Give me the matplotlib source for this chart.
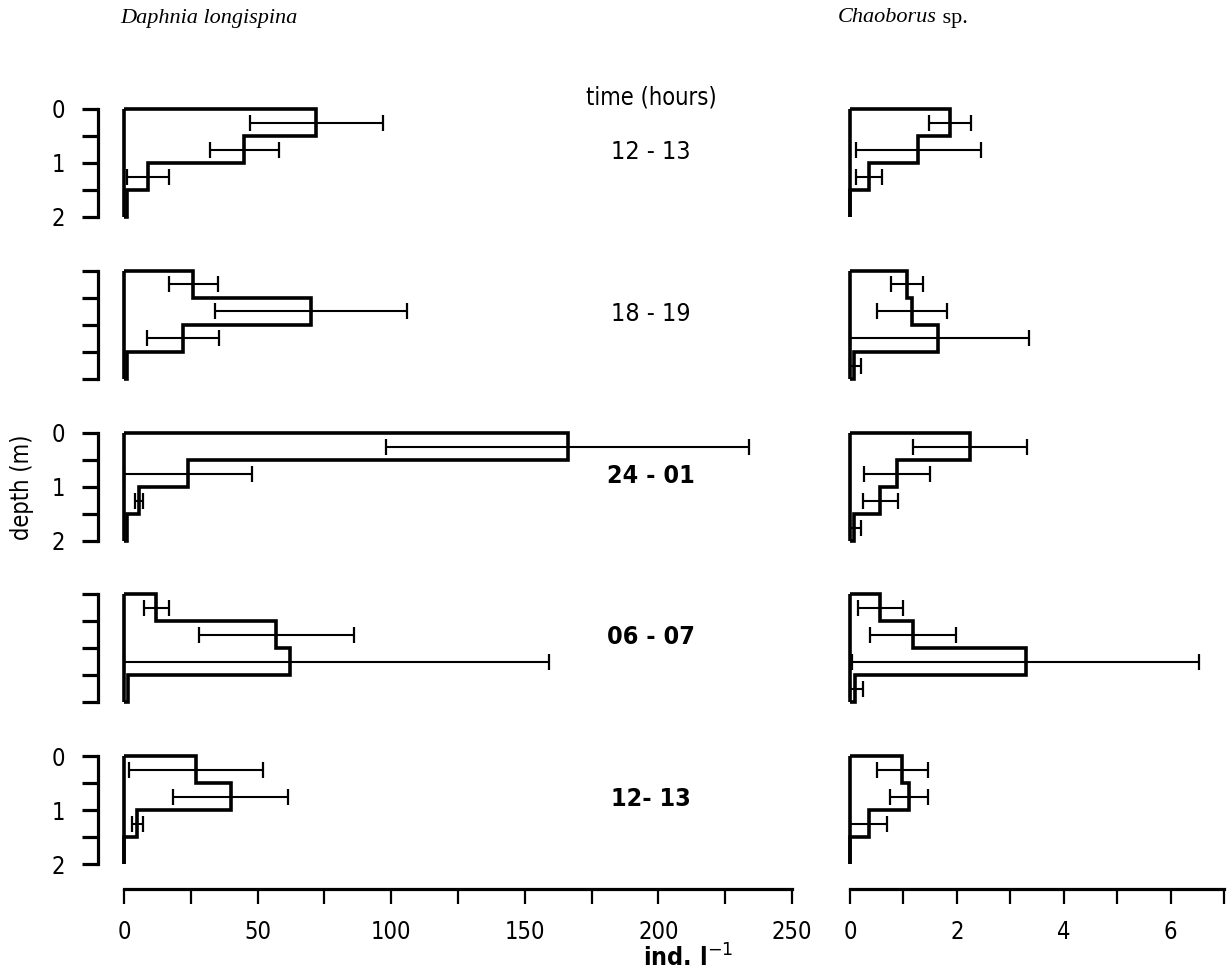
import numpy as np
import matplotlib
matplotlib.use("Agg")
import matplotlib.pyplot as plt
from matplotlib import font_manager

# ---------------- data ----------------
depth_edges = [0.0, 0.5, 1.0, 1.5, 2.0]
depth_ticks = [0, 0.5, 1, 1.5, 2]
depth_labels = ["0", "", "1", "", "2"]

time_labels = ["12 - 13", "18 - 19", "24 - 01", "06 - 07", "12- 13"]
time_bold = [False, False, True, True, True]

# Daphnia longispina (ind. l-1), per sampling time, depth bins 0-0.5,0.5-1,1-1.5,1.5-2
daphnia_12a = [72, 45, 9, 1]
daphnia_12a_sd = [25, 13, 8, np.nan]
daphnia_18 = [26, 70, 22, 1]
daphnia_18_sd = [9, 36, 13.5, np.nan]
daphnia_24 = [166, 24, 5.5, 1]
daphnia_24_sd = [68, 24, 1.5, np.nan]
daphnia_06 = [12, 57, 62, 1.5]
daphnia_06_sd = [4.7, 29, 97, np.nan]
daphnia_12b = [27, 40, 5, 0]
daphnia_12b_sd = [25, 21.5, 2, np.nan]

# Chaoborus sp. (ind. l-1)
chaob_12a = [1.87, 1.28, 0.35, 0]
chaob_12a_sd = [0.4, 1.17, 0.24, np.nan]
chaob_18 = [1.07, 1.16, 1.65, 0.08]
chaob_18_sd = [0.3, 0.65, 1.7, 0.12]
chaob_24 = [2.25, 0.88, 0.57, 0.08]
chaob_24_sd = [1.07, 0.62, 0.33, 0.12]
chaob_06 = [0.57, 1.18, 3.29, 0.1]
chaob_06_sd = [0.42, 0.81, 3.25, 0.15]
chaob_12b = [0.98, 1.1, 0.35, 0]
chaob_12b_sd = [0.48, 0.36, 0.35, np.nan]

daphnia = [daphnia_12a, daphnia_18, daphnia_24, daphnia_06, daphnia_12b]
daphnia_sd = [daphnia_12a_sd, daphnia_18_sd, daphnia_24_sd, daphnia_06_sd, daphnia_12b_sd]
chaob = [chaob_12a, chaob_18, chaob_24, chaob_06, chaob_12b]
chaob_sd = [chaob_12a_sd, chaob_18_sd, chaob_24_sd, chaob_06_sd, chaob_12b_sd]

daph_xticks = [0, 25, 50, 75, 100, 125, 150, 175, 200, 225, 250]
daph_xlabels = ["0", "", "50", "", "100", "", "150", "", "200", "", "250"]
chaob_xticks = [0, 1, 2, 3, 4, 5, 6, 7]
chaob_xlabels = ["0", "", "2", "", "4", "", "6", ""]

# ---------------- fonts ----------------
cond = None
for f in font_manager.fontManager.ttflist:
    fn = f.fname.lower()
    if ("condensed" in fn or "narrow" in fn) and "bold" not in fn \
            and "oblique" not in fn and "italic" not in fn and "mono" not in fn \
            and "serif" not in fn.replace("sans", ""):
        cond = f.fname
        break
cond_b = None
for f in font_manager.fontManager.ttflist:
    fn = f.fname.lower()
    if ("condensed" in fn or "narrow" in fn) and "bold" in fn \
            and "oblique" not in fn and "italic" not in fn and "mono" not in fn \
            and "serif" not in fn.replace("sans", ""):
        cond_b = f.fname
        break

if cond:
    TSZ = 17
    FP = font_manager.FontProperties(fname=cond, size=TSZ)
    FPB = font_manager.FontProperties(fname=cond_b if cond_b else cond, size=TSZ + 1)
else:
    TSZ = 15
    FP = font_manager.FontProperties(family="DejaVu Sans", size=TSZ)
    FPB = font_manager.FontProperties(family="DejaVu Sans", weight="bold", size=TSZ)
FPN = FP.copy()
FPN.set_size(TSZ + 1)
SERIF = "Liberation Serif"

# ---------------- layout ----------------
W, H = 1232, 973
fig = plt.figure(figsize=(W / 100, H / 100), dpi=100)


def fx(px):
    return px / W


def fy(py):
    return 1 - py / H


row_tops = [109, 271, 433, 594, 756]
row_h = 108
cols = [(124, 792, 250, daph_xticks, daph_xlabels, daphnia, daphnia_sd),
        (850, 1224, 7, chaob_xticks, chaob_xlabels, chaob, chaob_sd)]

LW = 2.6
SPW = 2.3
mids = [(a + b) / 2 for a, b in zip(depth_edges[:-1], depth_edges[1:])]

for ci, (x0, x1, xmax, xt, xl, vals_all, sd_all) in enumerate(cols):
    for ri, top in enumerate(row_tops):
        ax = fig.add_axes([fx(x0), fy(top + row_h), fx(x1) - fx(x0), row_h / H])
        ax.set_xlim(0, xmax)
        ax.set_ylim(2, 0)
        ax.patch.set_visible(False)
        vals = np.array(vals_all[ri], dtype=float)
        sd = np.array(sd_all[ri], dtype=float)

        ax.stairs(vals, depth_edges, orientation="horizontal", baseline=0,
                  fill=False, color="black", lw=LW, clip_on=False)
        ax.plot([0, 0], [0, 2], color="black", lw=LW, clip_on=False,
                solid_capstyle="butt")
        ok = ~np.isnan(sd)
        lo = np.minimum(sd[ok], vals[ok])
        hi = sd[ok]
        ax.errorbar(vals[ok], np.array(mids)[ok], xerr=[lo, hi], fmt="none",
                    ecolor="black", elinewidth=1.5, capsize=5.5, capthick=1.6,
                    clip_on=False)

        for s in ["top", "right"]:
            ax.spines[s].set_visible(False)

        # depth axis (left column only)
        if ci == 0:
            ax.spines["left"].set_position(("outward", 19))
            ax.spines["left"].set_linewidth(SPW)
            ax.set_yticks(depth_ticks)
            if ri in (0, 2, 4):
                ax.set_yticklabels(depth_labels, fontproperties=FP)
            else:
                ax.set_yticklabels([""] * 5)
            ax.tick_params(axis="y", direction="out", length=11.5, width=SPW,
                           pad=12)
        else:
            ax.spines["left"].set_visible(False)
            ax.set_yticks([])

        # x axis only below the last row
        if ri == 4:
            ax.spines["bottom"].set_position(("outward", 18))
            ax.spines["bottom"].set_linewidth(SPW)
            ax.set_xticks(xt)
            ax.set_xticklabels(xl, fontproperties=FP)
            ax.tick_params(axis="x", direction="out", length=11, width=1.6,
                           pad=11)
        else:
            ax.spines["bottom"].set_visible(False)
            ax.set_xticks([])

# ---------------- texts ----------------
fig.text(fx(120), fy(18), "Daphnia longispina", fontfamily=SERIF,
         fontstyle="italic", fontsize=16, ha="left", va="center")
t1 = fig.text(fx(838), fy(18), "Chaoborus", fontfamily=SERIF,
              fontstyle="italic", fontsize=16, ha="left", va="center")
fig.add_artist(plt.Annotation(" sp.", xy=(1, 0.5), xycoords=t1, va="center",
                              ha="left", fontfamily=SERIF, fontsize=16))

fig.text(fx(651), fy(97), "time (hours)", fontproperties=FP,
         ha="center", va="center")
for ri, top in enumerate(row_tops):
    fig.text(fx(651), fy(top + 0.8 * 54), time_labels[ri],
             fontproperties=FPB if time_bold[ri] else FPN,
             ha="center", va="center")

fig.text(fx(22), fy(487), "depth (m)", fontproperties=FP,
         rotation=90, ha="center", va="center")
fig.text(fx(688), fy(958), r"ind. l$^{-1}$", fontproperties=FPB,
         ha="center", va="center")

fig.savefig("out.png", dpi=100)
